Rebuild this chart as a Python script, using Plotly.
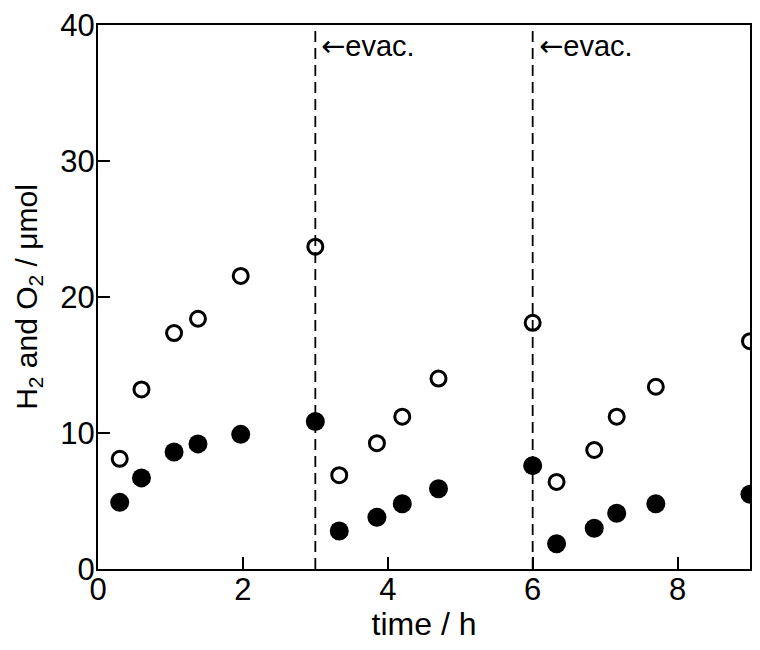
import plotly.graph_objects as go

time_h = [0.3, 0.6, 1.05, 1.38, 1.97, 3.0, 3.33, 3.85, 4.2, 4.7, 6.0, 6.33, 6.85, 7.16, 7.7, 9.0]
h2_umol = [8.1, 13.2, 17.35, 18.4, 21.55, 23.7, 6.9, 9.25, 11.2, 14.0, 18.1, 6.4, 8.75, 11.2, 13.4, 16.75]
o2_umol = [4.9, 6.7, 8.6, 9.2, 9.9, 10.85, 2.8, 3.8, 4.8, 5.9, 7.6, 1.85, 3.0, 4.1, 4.8, 5.5]
evac_times = [3, 6]
x_ticks = [0, 2, 4, 6, 8]
y_ticks = [0, 10, 20, 30, 40]

FONT = "Liberation Sans, Arial, sans-serif"

fig = go.Figure()
fig.add_trace(go.Scatter(x=time_h, y=h2_umol, mode="markers", name="H2",
                         marker=dict(symbol="circle-open", size=15, color="black",
                                     line=dict(width=3, color="black")),
                         cliponaxis=True))
fig.add_trace(go.Scatter(x=time_h, y=o2_umol, mode="markers", name="O2",
                         marker=dict(symbol="circle", size=19, color="black"),
                         cliponaxis=True))

for t in evac_times:
    fig.add_shape(type="line", x0=t, x1=t, y0=0, y1=40, xref="x", yref="y",
                  line=dict(color="black", width=1.8, dash="11px,6px"))
    fig.add_annotation(x=t, y=40, xref="x", yref="y",
                       text="<span style='font-family:DejaVu Sans'>\u2190</span>evac.",
                       showarrow=False, xanchor="left", yanchor="top", xshift=4, yshift=-2,
                       font=dict(family=FONT, size=29, color="black"))

axis_common = dict(showline=True, linecolor="black", linewidth=2, mirror=True,
                   ticks="inside", ticklen=12, tickwidth=2, tickcolor="black",
                   showgrid=False, zeroline=False, ticklabeloverflow="allow",
                   tickfont=dict(family=FONT, size=31, color="black"))

fig.update_xaxes(range=[0, 9], tickvals=x_ticks, ticklabelstandoff=-8, automargin=False,
                 title=dict(text="time / h", font=dict(family=FONT, size=32, color="black"),
                            standoff=15),
                 **axis_common)
fig.update_yaxes(range=[0, 40], tickvals=y_ticks, ticklabelstandoff=-5,
                 title=dict(text="H<sub>2</sub> and O<sub>2</sub> / \u03bcmol",
                            font=dict(family=FONT, size=30, color="black"), standoff=14),
                 **axis_common)

fig.update_layout(width=744, height=634, showlegend=False,
                  plot_bgcolor="white", paper_bgcolor="white",
                  margin=dict(l=90, r=0, t=17, b=73))

fig.write_html("out.html")
